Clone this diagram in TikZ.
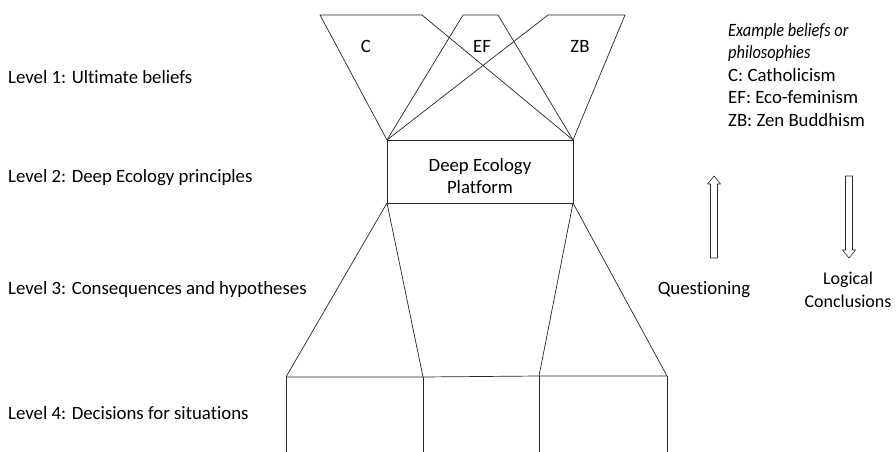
\documentclass[tikz,border=0pt]{standalone}
\usepackage{fontspec}
\setmainfont{Carlito}[Ligatures=NoCommon]
\begin{document}
\begin{tikzpicture}[x=1pt,y=-1pt,
  ln/.style={draw=black!85,line width=0.7pt,line join=round},
  lbl/.style={font=\fontsize{18.8}{22.5}\selectfont,inner sep=0pt},
  lvl/.style={lbl,anchor=west}]
\useasboundingbox (0,0) rectangle (896,452);
% coordinates
\coordinate (bl) at (387,140);
\coordinate (br) at (573,140);
\coordinate (bbl) at (387,203);
\coordinate (bbr) at (573,203);
\coordinate (c1) at (320,15); \coordinate (c2) at (422,15);
\coordinate (e1) at (463,15); \coordinate (e2) at (498,15);
\coordinate (z1) at (548,15); \coordinate (z2) at (625,15);
\coordinate (d1) at (286,377); \coordinate (d2) at (423,377);
\coordinate (d3) at (539,376); \coordinate (d4) at (667,376);
% top shapes
\draw[ln] (bl) -- (c1) -- (c2) -- (br);
\draw[ln] (bl) -- (e1) -- (e2) -- (br);
\draw[ln] (bl) -- (z1) -- (z2) -- (br);
% box
\draw[ln] (bl) rectangle (bbr);
\node[lbl,align=center] (platform) at (480,176) {Deep Ecology\\Platform};
% lower section
\draw[ln] (d1) -- (bbl) -- (d2);
\draw[ln] (d3) -- (bbr) -- (d4);
\draw[ln] (d1) -- (d2) -- (d3) -- (d4);
\draw[ln] (d1) -- (286,452);
\draw[ln] (d2) -- (423,452);
\draw[ln] (d3) -- (539,452);
\draw[ln] (d4) -- (667,452);
% shape labels
\node[lbl] (C) at (366,46) {C};
\node[lbl] (EF) at (482,46) {EF};
\node[lbl] (ZB) at (580,46) {ZB};
% level labels
\node[lvl] (l1) at (8,77) {Level 1: Ultimate beliefs};
\node[lvl] (l2) at (8,178) {Level 2: Deep Ecology principles};
\node[lvl] (l3) at (8,289) {Level 3: Consequences and hypotheses};
\node[lvl] (l4) at (8,413) {Level 4: Decisions for situations};
% legend
\node[lbl,align=left,anchor=west] (legend) at (728,75) {\scalebox{0.87}[1]{\itshape Example beliefs or}\\\scalebox{0.87}[1]{\itshape philosophies}\\C: Catholicism\\EF: Eco-feminism\\ZB: Zen Buddhism};
% arrows
\draw[ln,line width=0.6pt] (714,176) -- (720.5,184) -- (717.5,184) -- (717.5,258) -- (710.5,258) -- (710.5,184) -- (707.5,184) -- cycle;
\draw[ln,line width=0.6pt] (849,258) -- (855.5,250) -- (852.5,250) -- (852.5,176) -- (845.5,176) -- (845.5,250) -- (842.5,250) -- cycle;
\node[lbl] (q) at (704,290) {Questioning};
\node[lbl,align=center,font=\fontsize{18}{22.5}\selectfont] (lc) at (848,290) {Logical\\Conclusions};
\end{tikzpicture}
\end{document}
